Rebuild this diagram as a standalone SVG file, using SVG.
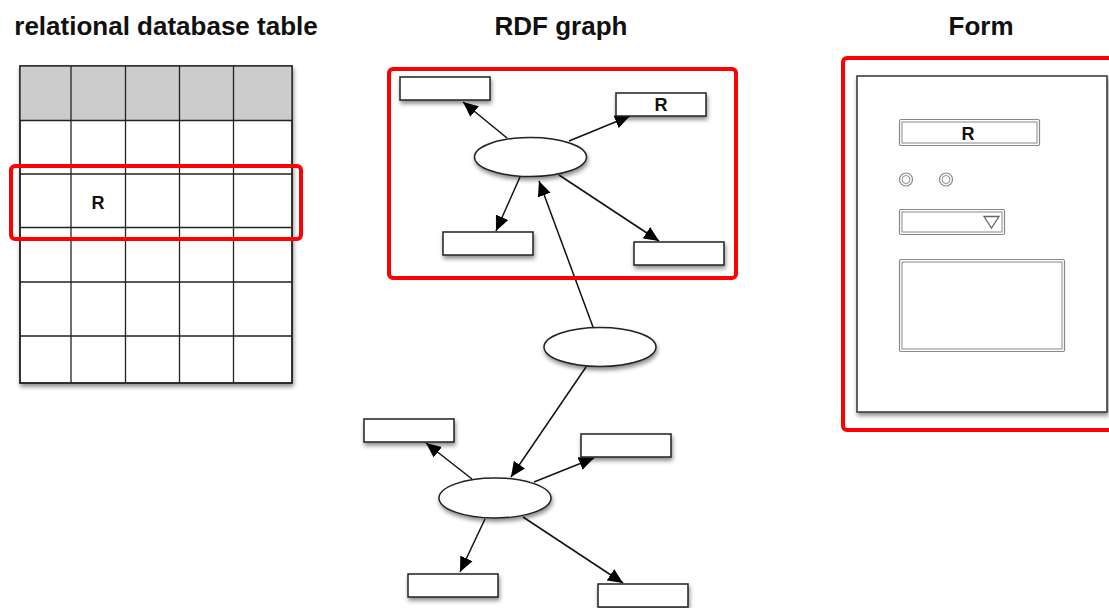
<svg xmlns="http://www.w3.org/2000/svg" width="1109" height="608" viewBox="0 0 1109 608">
<defs>
<filter id="sh" x="-20%" y="-20%" width="150%" height="160%">
<feDropShadow dx="1" dy="3" stdDeviation="2" flood-color="#000" flood-opacity="0.45"/>
</filter>
<marker id="ah" viewBox="0 0 10 10" refX="10" refY="5" markerWidth="15" markerHeight="15" markerUnits="userSpaceOnUse" orient="auto">
<path d="M0,0.5 L10,5 L0,9.5 z" fill="#000"/>
</marker>
</defs>
<style>
.title{font-family:"Liberation Sans",Arial,sans-serif;font-weight:bold;font-size:26px;fill:#111;text-anchor:middle}
.lbl{font-family:"Liberation Sans",Arial,sans-serif;font-weight:bold;font-size:18px;fill:#111;text-anchor:middle}
.grid{stroke:#222;stroke-width:1.3;fill:none}
.box{fill:#fff;stroke:#222;stroke-width:1.5;filter:url(#sh)}
.hl{fill:none;stroke:#f00;stroke-width:4}
.edge{stroke:#111;stroke-width:1.5;fill:none;marker-end:url(#ah)}
.fo{fill:#fff;stroke:#888;stroke-width:1.2}
.fi{fill:none;stroke:#888;stroke-width:1}
</style>

<text class="title" x="166" y="35">relational database table</text>
<text class="title" x="561" y="35">RDF graph</text>
<text class="title" x="981" y="35">Form</text>

<g id="table">
<rect x="20" y="66" width="272" height="317" fill="#fff" stroke="#222" stroke-width="1.5" filter="url(#sh)"/>
<rect x="20" y="66" width="272" height="54" fill="#ccc"/>
<g class="grid">
<rect x="20" y="66" width="272" height="317"/>
<line x1="71" y1="66" x2="71" y2="383"/>
<line x1="125.5" y1="66" x2="125.5" y2="383"/>
<line x1="179.5" y1="66" x2="179.5" y2="383"/>
<line x1="233.5" y1="66" x2="233.5" y2="383"/>
<line x1="20" y1="120.5" x2="292" y2="120.5"/>
<line x1="20" y1="174" x2="292" y2="174"/>
<line x1="20" y1="227.5" x2="292" y2="227.5"/>
<line x1="20" y1="282" x2="292" y2="282"/>
<line x1="20" y1="336" x2="292" y2="336"/>
</g>
<text class="lbl" x="98" y="209">R</text>
<rect class="hl" x="11" y="166" width="290" height="73" rx="4"/>
</g>

<g id="connectors">
<line class="edge" x1="507" y1="138" x2="463" y2="102"/>
<line class="edge" x1="569" y1="141" x2="630" y2="116"/>
<line class="edge" x1="520" y1="177" x2="496" y2="231"/>
<line class="edge" x1="559" y1="175" x2="659" y2="241"/>
<line class="edge" x1="593" y1="327" x2="539" y2="181"/>
<line class="edge" x1="586" y1="367" x2="511" y2="477"/>
<line class="edge" x1="472" y1="479" x2="426" y2="443"/>
<line class="edge" x1="534" y1="482" x2="594" y2="458"/>
<line class="edge" x1="485" y1="519" x2="460" y2="572"/>
<line class="edge" x1="523" y1="517" x2="623" y2="583"/>
</g>

<g id="rdf-top-ellipse"><ellipse class="box" cx="530.5" cy="157" rx="56" ry="19.5"/></g>
<g id="rdf-box-tl"><rect class="box" x="400" y="77" width="90" height="23"/></g>
<g id="rdf-box-r"><rect class="box" x="616" y="93" width="90" height="23"/><text class="lbl" x="661" y="111">R</text></g>
<g id="rdf-box-bl"><rect class="box" x="443" y="232" width="90" height="23"/></g>
<g id="rdf-box-br"><rect class="box" x="634" y="242" width="90" height="23"/></g>
<g id="rdf-mid-ellipse"><ellipse class="box" cx="600" cy="347" rx="56" ry="19.5"/></g>
<g id="rdf-low-ellipse"><ellipse class="box" cx="495" cy="498" rx="56" ry="20"/></g>
<g id="rdf-box-l2"><rect class="box" x="364" y="419" width="90" height="23"/></g>
<g id="rdf-box-r2"><rect class="box" x="581" y="434" width="90" height="23"/></g>
<g id="rdf-box-bl2"><rect class="box" x="408" y="574" width="90" height="23"/></g>
<g id="rdf-box-br2"><rect class="box" x="598" y="584" width="90" height="23"/></g>
<g id="rdf-highlight"><rect class="hl" x="389" y="69" width="347" height="209" rx="4"/></g>

<g id="form">
<rect x="857" y="76" width="250" height="336" fill="#fff" stroke="#333" stroke-width="1.5" filter="url(#sh)"/>
<rect class="fo" x="899.5" y="119.5" width="140" height="26" rx="1.5"/>
<rect class="fi" x="902" y="122" width="135" height="21"/>
<text class="lbl" x="968" y="140">R</text>
<circle class="fo" cx="906" cy="179.5" r="6.5"/>
<circle class="fi" cx="906" cy="179.5" r="4"/>
<circle class="fo" cx="946" cy="179.5" r="6.5"/>
<circle class="fi" cx="946" cy="179.5" r="4"/>
<rect class="fo" x="899.5" y="209.5" width="105" height="25" rx="1.5"/>
<rect class="fi" x="902" y="212" width="100" height="20"/>
<path d="M984,216.5 L999,216.5 L991.5,228 z" fill="none" stroke="#666" stroke-width="1.3"/>
<rect class="fo" x="899.5" y="259.5" width="165" height="92" rx="1.5"/>
<rect class="fi" x="902" y="262" width="160" height="87"/>
</g>
<g id="form-highlight"><rect class="hl" x="843" y="58" width="290" height="372" rx="4"/></g>
</svg>
